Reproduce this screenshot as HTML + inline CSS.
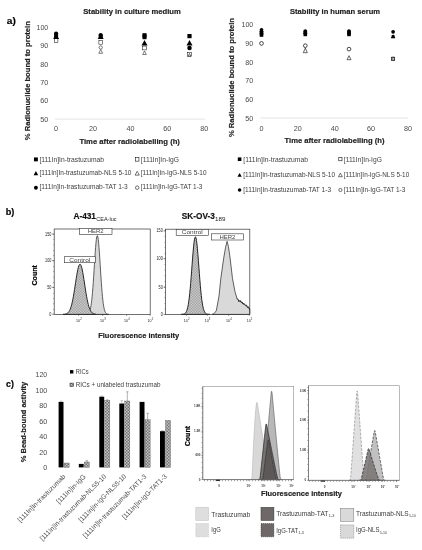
<!DOCTYPE html>
<html><head><meta charset="utf-8"><title>Figure</title>
<style>
html,body{margin:0;padding:0;background:#fff;}
body{width:422px;height:550px;overflow:hidden;}
svg{display:block;filter:blur(0.35px);font-family:'Liberation Sans', sans-serif;}
</style></head><body>
<svg width="422" height="550" viewBox="0 0 422 550">
<rect width="422" height="550" fill="#fff"/>
<text x="6.80" y="24.30" font-size="9.5" textLength="9.00" lengthAdjust="spacingAndGlyphs" font-weight="bold" stroke="#000" stroke-width="0.18" fill="#000">a)</text>
<text x="132.00" y="14.30" font-size="7.8" textLength="97.50" lengthAdjust="spacingAndGlyphs" text-anchor="middle" font-weight="bold" stroke="#222" stroke-width="0.18" fill="#222">Stability in culture medium</text>
<text x="48.30" y="29.90" font-size="7.5" textLength="11.80" lengthAdjust="spacingAndGlyphs" text-anchor="end" fill="#4a4a4a">100</text>
<text x="48.30" y="48.30" font-size="7.5" textLength="8.00" lengthAdjust="spacingAndGlyphs" text-anchor="end" fill="#4a4a4a">90</text>
<text x="48.30" y="66.60" font-size="7.5" textLength="8.00" lengthAdjust="spacingAndGlyphs" text-anchor="end" fill="#4a4a4a">80</text>
<text x="48.30" y="85.00" font-size="7.5" textLength="8.00" lengthAdjust="spacingAndGlyphs" text-anchor="end" fill="#4a4a4a">70</text>
<text x="48.30" y="103.30" font-size="7.5" textLength="8.00" lengthAdjust="spacingAndGlyphs" text-anchor="end" fill="#4a4a4a">60</text>
<text x="48.30" y="121.60" font-size="7.5" textLength="8.00" lengthAdjust="spacingAndGlyphs" text-anchor="end" fill="#4a4a4a">50</text>
<line x1="55" y1="119.1" x2="205" y2="119.1" stroke="#d9d9d9" stroke-width="0.7"/>
<text x="56.00" y="131.30" font-size="7.5" textLength="4.00" lengthAdjust="spacingAndGlyphs" text-anchor="middle" fill="#4a4a4a">0</text>
<text x="93.00" y="131.30" font-size="7.5" textLength="8.00" lengthAdjust="spacingAndGlyphs" text-anchor="middle" fill="#4a4a4a">20</text>
<text x="130.50" y="131.30" font-size="7.5" textLength="8.00" lengthAdjust="spacingAndGlyphs" text-anchor="middle" fill="#4a4a4a">40</text>
<text x="167.30" y="131.30" font-size="7.5" textLength="8.00" lengthAdjust="spacingAndGlyphs" text-anchor="middle" fill="#4a4a4a">60</text>
<text x="204.30" y="131.30" font-size="7.5" textLength="8.00" lengthAdjust="spacingAndGlyphs" text-anchor="middle" fill="#4a4a4a">80</text>
<text x="30.20" y="80.70" font-size="7.8" textLength="119.00" lengthAdjust="spacingAndGlyphs" text-anchor="middle" font-weight="bold" stroke="#222" stroke-width="0.18" fill="#222" transform="rotate(-90 30.20 80.70)">% Radionuclide bound to protein</text>
<text x="129.70" y="144.00" font-size="7.8" textLength="100.50" lengthAdjust="spacingAndGlyphs" text-anchor="middle" font-weight="bold" stroke="#222" stroke-width="0.18" fill="#222">Time after radiolabelling (h)</text>
<rect x="54.30" y="38.70" width="3.6" height="3.6" fill="#fff" stroke="#000" stroke-width="0.5"/>
<rect x="54.10" y="34.20" width="4.0" height="4.0" fill="#000"/>
<circle cx="56.10" cy="33.50" r="2.1" fill="#000"/>
<polygon points="56.10,33.90 59.10,39.10 53.10,39.10" fill="#000"/>
<polygon points="100.70,49.50 102.60,53.30 98.80,53.30" fill="#fff" stroke="#000" stroke-width="0.5"/>
<circle cx="100.70" cy="47.50" r="1.65" fill="#fff" stroke="#000" stroke-width="0.5"/>
<rect x="98.90" y="40.60" width="3.6" height="3.6" fill="#fff" stroke="#000" stroke-width="0.5"/>
<rect x="98.70" y="34.60" width="4.0" height="4.0" fill="#000"/>
<circle cx="100.70" cy="35.00" r="2.1" fill="#000"/>
<polygon points="100.70,33.90 103.70,39.10 97.70,39.10" fill="#000"/>
<polygon points="144.50,50.90 146.30,54.50 142.70,54.50" fill="#fff" stroke="#000" stroke-width="0.5"/>
<rect x="142.60" y="46.10" width="3.8" height="3.8" fill="#fff" stroke="#000" stroke-width="0.5"/>
<rect x="142.40" y="33.20" width="4.2" height="4.2" fill="#000"/>
<rect x="142.50" y="35.20" width="4.0" height="4.0" fill="#000"/>
<polygon points="144.50,40.00 147.50,45.60 141.50,45.60" fill="#000"/>
<rect x="187.50" y="52.50" width="4.0" height="4.0" fill="#fff" stroke="#000" stroke-width="0.5"/>
<polygon points="189.50,53.40 190.80,56.00 188.20,56.00" fill="#fff" stroke="#000" stroke-width="0.5"/>
<rect x="187.40" y="34.00" width="4.2" height="4.2" fill="#000"/>
<polygon points="189.50,40.00 192.50,45.60 186.50,45.60" fill="#000"/>
<circle cx="189.50" cy="48.00" r="2.25" fill="#000"/>
<rect x="33.95" y="157.45" width="3.9" height="3.9" fill="#000"/>
<rect x="135.45" y="157.65" width="3.5" height="3.5" fill="#fff" stroke="#000" stroke-width="0.55"/>
<text x="39.50" y="161.70" font-size="6.7" textLength="64.50" lengthAdjust="spacingAndGlyphs" fill="#404040">[111In]In-trastuzumab</text>
<text x="140.80" y="161.70" font-size="6.7" textLength="38.20" lengthAdjust="spacingAndGlyphs" fill="#404040">[111In]In-IgG</text>
<polygon points="35.90,171.10 38.20,175.30 33.60,175.30" fill="#000"/>
<polygon points="137.20,171.25 139.30,175.15 135.10,175.15" fill="#fff" stroke="#000" stroke-width="0.55"/>
<text x="39.50" y="175.10" font-size="6.7" textLength="92.00" lengthAdjust="spacingAndGlyphs" fill="#404040">[111In]In-trastuzumab-NLS 5-10</text>
<text x="140.80" y="175.10" font-size="6.7" textLength="65.70" lengthAdjust="spacingAndGlyphs" fill="#404040">[111In]In-IgG-NLS 5-10</text>
<circle cx="35.90" cy="187.70" r="1.95" fill="#000"/>
<circle cx="137.20" cy="187.70" r="1.75" fill="#fff" stroke="#000" stroke-width="0.55"/>
<text x="39.50" y="188.90" font-size="6.7" textLength="88.20" lengthAdjust="spacingAndGlyphs" fill="#404040">[111In]In-trastuzumab-TAT 1-3</text>
<text x="140.80" y="188.90" font-size="6.7" textLength="61.70" lengthAdjust="spacingAndGlyphs" fill="#404040">[111In]In-IgG-TAT 1-3</text>
<text x="335.00" y="14.30" font-size="7.8" textLength="90.00" lengthAdjust="spacingAndGlyphs" text-anchor="middle" font-weight="bold" stroke="#222" stroke-width="0.18" fill="#222">Stability in human serum</text>
<text x="253.30" y="27.00" font-size="7.5" textLength="11.80" lengthAdjust="spacingAndGlyphs" text-anchor="end" fill="#4a4a4a">100</text>
<text x="253.30" y="46.10" font-size="7.5" textLength="8.00" lengthAdjust="spacingAndGlyphs" text-anchor="end" fill="#4a4a4a">90</text>
<text x="253.30" y="64.70" font-size="7.5" textLength="8.00" lengthAdjust="spacingAndGlyphs" text-anchor="end" fill="#4a4a4a">80</text>
<text x="253.30" y="83.30" font-size="7.5" textLength="8.00" lengthAdjust="spacingAndGlyphs" text-anchor="end" fill="#4a4a4a">70</text>
<text x="253.30" y="101.90" font-size="7.5" textLength="8.00" lengthAdjust="spacingAndGlyphs" text-anchor="end" fill="#4a4a4a">60</text>
<text x="253.30" y="120.50" font-size="7.5" textLength="8.00" lengthAdjust="spacingAndGlyphs" text-anchor="end" fill="#4a4a4a">50</text>
<line x1="260.5" y1="118" x2="408" y2="118" stroke="#d9d9d9" stroke-width="0.7"/>
<text x="261.60" y="130.80" font-size="7.5" textLength="4.00" lengthAdjust="spacingAndGlyphs" text-anchor="middle" fill="#4a4a4a">0</text>
<text x="297.80" y="130.80" font-size="7.5" textLength="8.00" lengthAdjust="spacingAndGlyphs" text-anchor="middle" fill="#4a4a4a">20</text>
<text x="334.70" y="130.80" font-size="7.5" textLength="8.00" lengthAdjust="spacingAndGlyphs" text-anchor="middle" fill="#4a4a4a">40</text>
<text x="371.00" y="130.80" font-size="7.5" textLength="8.00" lengthAdjust="spacingAndGlyphs" text-anchor="middle" fill="#4a4a4a">60</text>
<text x="408.00" y="130.80" font-size="7.5" textLength="8.00" lengthAdjust="spacingAndGlyphs" text-anchor="middle" fill="#4a4a4a">80</text>
<text x="233.50" y="77.50" font-size="7.8" textLength="119.00" lengthAdjust="spacingAndGlyphs" text-anchor="middle" font-weight="bold" stroke="#222" stroke-width="0.18" fill="#222" transform="rotate(-90 233.50 77.50)">% Radionuclide bound to protein</text>
<text x="334.50" y="142.70" font-size="7.8" textLength="100.00" lengthAdjust="spacingAndGlyphs" text-anchor="middle" font-weight="bold" stroke="#222" stroke-width="0.18" fill="#222">Time after radiolabelling (h)</text>
<circle cx="261.50" cy="43.40" r="1.85" fill="#fff" stroke="#000" stroke-width="0.7"/>
<rect x="259.70" y="31.20" width="3.6" height="3.6" fill="#000"/>
<rect x="259.70" y="33.20" width="3.6" height="3.6" fill="#000"/>
<polygon points="261.50,29.50 263.50,33.50 259.50,33.50" fill="#000"/>
<circle cx="261.50" cy="29.80" r="1.85" fill="#000"/>
<circle cx="261.50" cy="31.50" r="1.85" fill="#000"/>
<polygon points="305.30,48.10 307.30,52.70 303.30,52.70" fill="#fff" stroke="#000" stroke-width="0.6"/>
<circle cx="305.30" cy="45.70" r="1.85" fill="#fff" stroke="#000" stroke-width="0.7"/>
<rect x="303.50" y="32.60" width="3.6" height="3.6" fill="#000"/>
<rect x="303.50" y="30.70" width="3.6" height="3.6" fill="#000"/>
<circle cx="305.30" cy="31.00" r="1.85" fill="#000"/>
<polygon points="305.30,30.00 307.30,34.00 303.30,34.00" fill="#000"/>
<circle cx="349.00" cy="49.10" r="1.85" fill="#fff" stroke="#000" stroke-width="0.7"/>
<polygon points="349.00,55.70 351.00,59.70 347.00,59.70" fill="#fff" stroke="#000" stroke-width="0.6"/>
<rect x="347.20" y="32.60" width="3.6" height="3.6" fill="#000"/>
<rect x="347.20" y="30.70" width="3.6" height="3.6" fill="#000"/>
<circle cx="349.00" cy="31.00" r="1.85" fill="#000"/>
<polygon points="349.00,30.00 351.00,34.00 347.00,34.00" fill="#000"/>
<rect x="391.48" y="57.18" width="3.24" height="3.24" fill="#fff" stroke="#000" stroke-width="0.6"/>
<polygon points="393.10,56.80 394.70,60.00 391.50,60.00" fill="#fff" stroke="#000" stroke-width="0.6"/>
<circle cx="393.10" cy="31.80" r="1.85" fill="#000"/>
<polygon points="393.10,34.20 395.40,38.20 390.80,38.20" fill="#000"/>
<rect x="391.66" y="35.16" width="2.8800000000000003" height="2.8800000000000003" fill="#000"/>
<rect x="237.81" y="157.41" width="3.588" height="3.588" fill="#000"/>
<rect x="338.79" y="157.59" width="3.22" height="3.22" fill="#fff" stroke="#000" stroke-width="0.55"/>
<text x="243.30" y="161.50" font-size="6.7" textLength="64.70" lengthAdjust="spacingAndGlyphs" fill="#404040">[111In]In-trastuzumab</text>
<text x="343.80" y="161.50" font-size="6.7" textLength="38.10" lengthAdjust="spacingAndGlyphs" fill="#404040">[111In]In-IgG</text>
<polygon points="239.60,172.97 241.72,176.83 237.48,176.83" fill="#000"/>
<polygon points="340.40,173.11 342.33,176.69 338.47,176.69" fill="#fff" stroke="#000" stroke-width="0.55"/>
<text x="243.30" y="176.80" font-size="6.7" textLength="91.80" lengthAdjust="spacingAndGlyphs" fill="#404040">[111In]In-trastuzumab-NLS 5-10</text>
<text x="343.80" y="176.80" font-size="6.7" textLength="65.40" lengthAdjust="spacingAndGlyphs" fill="#404040">[111In]In-IgG-NLS 5-10</text>
<circle cx="239.60" cy="190.00" r="1.794" fill="#000"/>
<circle cx="340.40" cy="190.00" r="1.61" fill="#fff" stroke="#000" stroke-width="0.55"/>
<text x="243.30" y="192.20" font-size="6.7" textLength="87.80" lengthAdjust="spacingAndGlyphs" fill="#404040">[111In]In-trastuzumab-TAT 1-3</text>
<text x="343.80" y="192.20" font-size="6.7" textLength="61.50" lengthAdjust="spacingAndGlyphs" fill="#404040">[111In]In-IgG-TAT 1-3</text>
<text x="5.70" y="214.50" font-size="9.5" textLength="8.60" lengthAdjust="spacingAndGlyphs" font-weight="bold" stroke="#000" stroke-width="0.18" fill="#000">b)</text>
<defs>
<pattern id="dots" width="1.6" height="1.6" patternUnits="userSpaceOnUse"><rect width="1.6" height="1.6" fill="#dadada"/><rect x="0" y="0" width="0.8" height="0.8" fill="#949494"/><rect x="0.8" y="0.8" width="0.8" height="0.8" fill="#949494"/></pattern>
<pattern id="bar" width="1.5" height="1.5" patternUnits="userSpaceOnUse"><rect width="1.5" height="1.5" fill="#f2f2f2"/><rect x="0" y="0" width="0.75" height="0.75" fill="#444"/><rect x="0.75" y="0.75" width="0.75" height="0.75" fill="#444"/></pattern>
</defs>
<text x="73.40" y="219.30" font-size="9.0" textLength="22.60" lengthAdjust="spacingAndGlyphs" font-weight="bold" stroke="#111" stroke-width="0.18" fill="#111">A-431</text>
<text x="96.30" y="220.90" font-size="6.0" textLength="20.20" lengthAdjust="spacingAndGlyphs" fill="#222">CEA-luc</text>
<path d="M86.00,314.40 L86.00,314.33 L86.38,314.30 L86.77,314.23 L87.15,314.14 L87.53,314.01 L87.92,313.81 L88.30,313.52 L88.68,313.13 L89.07,312.58 L89.45,311.83 L89.83,310.84 L90.22,309.55 L90.60,307.89 L90.98,305.81 L91.37,303.25 L91.75,300.17 L92.13,296.52 L92.52,292.30 L92.90,287.52 L93.28,282.24 L93.67,276.55 L94.05,270.58 L94.43,264.48 L94.82,258.46 L95.20,252.72 L95.58,247.50 L95.97,243.01 L96.35,239.45 L96.73,236.99 L97.12,235.75 L97.50,235.77 L97.88,237.08 L98.27,239.59 L98.65,243.19 L99.03,247.71 L99.42,252.96 L99.80,258.72 L100.18,264.75 L100.57,270.84 L100.95,276.81 L101.33,282.48 L101.72,287.74 L102.10,292.49 L102.48,296.69 L102.87,300.31 L103.25,303.38 L103.63,305.91 L104.02,307.97 L104.40,309.61 L104.78,310.89 L105.17,311.87 L105.55,312.60 L105.93,313.15 L106.32,313.54 L106.70,313.82 L107.08,314.01 L107.47,314.15 L107.85,314.24 L108.23,314.30 L108.62,314.34 L109.00,314.36 L109.00,314.40 Z" fill="#d9d9d9" stroke="#3a3a3a" stroke-width="0.8" fill-opacity="1" stroke-linejoin="round"/>
<path d="M63.00,314.40 L63.00,314.35 L63.55,314.32 L64.10,314.27 L64.65,314.21 L65.20,314.12 L65.75,313.99 L66.30,313.80 L66.85,313.56 L67.40,313.22 L67.95,312.78 L68.50,312.19 L69.05,311.45 L69.60,310.50 L70.15,309.33 L70.70,307.90 L71.25,306.18 L71.80,304.15 L72.35,301.81 L72.90,299.15 L73.45,296.18 L74.00,292.96 L74.55,289.52 L75.10,285.94 L75.65,282.30 L76.20,278.71 L76.75,275.29 L77.30,272.14 L77.85,269.39 L78.40,267.15 L78.95,265.49 L79.50,264.50 L80.05,264.20 L80.60,264.63 L81.15,265.74 L81.70,267.51 L82.25,269.86 L82.80,272.69 L83.35,275.89 L83.90,279.36 L84.45,282.96 L85.00,286.59 L85.55,290.16 L86.10,293.56 L86.65,296.74 L87.20,299.65 L87.75,302.26 L88.30,304.54 L88.85,306.51 L89.40,308.18 L89.95,309.56 L90.50,310.69 L91.05,311.60 L91.60,312.31 L92.15,312.87 L92.70,313.29 L93.25,313.61 L93.80,313.84 L94.35,314.01 L94.90,314.14 L95.45,314.22 L96.00,314.28 L96.00,314.40 Z" fill="url(#dots)" stroke="#262626" stroke-width="1.0" fill-opacity="1" stroke-linejoin="round"/>
<rect x="54.2" y="229" width="96.00" height="85.40" fill="none" stroke="#333" stroke-width="0.7"/>
<line x1="52.2" y1="234" x2="54.2" y2="234" stroke="#333" stroke-width="0.6"/>
<text transform="translate(45.10 235.50) scale(0.1888 0.2300)" font-size="20" fill="#222">150</text>
<line x1="52.2" y1="260.6" x2="54.2" y2="260.6" stroke="#333" stroke-width="0.6"/>
<text transform="translate(45.10 262.10) scale(0.1888 0.2300)" font-size="20" fill="#222">100</text>
<line x1="52.2" y1="287.4" x2="54.2" y2="287.4" stroke="#333" stroke-width="0.6"/>
<text transform="translate(47.20 288.90) scale(0.1888 0.2300)" font-size="20" fill="#222">50</text>
<line x1="52.2" y1="314.2" x2="54.2" y2="314.2" stroke="#333" stroke-width="0.6"/>
<text transform="translate(49.30 315.70) scale(0.1888 0.2300)" font-size="20" fill="#222">0</text>
<line x1="78.6" y1="314.4" x2="78.6" y2="316.0" stroke="#444" stroke-width="0.5"/>
<text transform="translate(76.00 321.80) scale(0.1798 0.2200)" font-size="20" fill="#222">10</text>
<text transform="translate(80.15 319.90) scale(0.1350 0.1350)" font-size="20" fill="#222">2</text>
<line x1="102.6" y1="314.4" x2="102.6" y2="316.0" stroke="#444" stroke-width="0.5"/>
<text transform="translate(100.00 321.80) scale(0.1798 0.2200)" font-size="20" fill="#222">10</text>
<text transform="translate(104.15 319.90) scale(0.1350 0.1350)" font-size="20" fill="#222">3</text>
<line x1="126.6" y1="314.4" x2="126.6" y2="316.0" stroke="#444" stroke-width="0.5"/>
<text transform="translate(124.00 321.80) scale(0.1798 0.2200)" font-size="20" fill="#222">10</text>
<text transform="translate(128.15 319.90) scale(0.1350 0.1350)" font-size="20" fill="#222">4</text>
<line x1="150.2" y1="314.4" x2="150.2" y2="316.0" stroke="#444" stroke-width="0.5"/>
<text transform="translate(147.60 321.80) scale(0.1798 0.2200)" font-size="20" fill="#222">10</text>
<text transform="translate(151.75 319.90) scale(0.1350 0.1350)" font-size="20" fill="#222">5</text>
<line x1="53.5" y1="234" x2="53.5" y2="314.4" stroke="#444" stroke-width="1.0" stroke-dasharray="0.4 4.96"/>
<line x1="164.9" y1="230.8" x2="164.9" y2="314.4" stroke="#444" stroke-width="1.0" stroke-dasharray="0.4 5.17"/>
<rect x="79.4" y="228.3" width="32.60" height="6.30" fill="#fff" stroke="#333" stroke-width="0.6"/>
<text transform="translate(87.70 233.32) scale(0.2999 0.2600)" font-size="20" fill="#444">HER2</text>
<rect x="64.3" y="256.7" width="31.00" height="6.00" fill="#fff" stroke="#333" stroke-width="0.6"/>
<text transform="translate(69.30 261.57) scale(0.3257 0.2600)" font-size="20" fill="#444">Control</text>
<text x="36.90" y="275.30" font-size="7.0" textLength="20.50" lengthAdjust="spacingAndGlyphs" text-anchor="middle" font-weight="bold" stroke="#000" stroke-width="0.18" fill="#000" transform="rotate(-90 36.90 275.30)">Count</text>
<text x="138.70" y="337.80" font-size="7.8" textLength="81.00" lengthAdjust="spacingAndGlyphs" text-anchor="middle" font-weight="bold" stroke="#222" stroke-width="0.18" fill="#222">Fluorescence intensity</text>
<text x="181.80" y="219.30" font-size="9.0" textLength="33.00" lengthAdjust="spacingAndGlyphs" font-weight="bold" stroke="#111" stroke-width="0.18" fill="#111">SK-OV-3</text>
<text x="215.10" y="220.90" font-size="6.0" textLength="10.40" lengthAdjust="spacingAndGlyphs" fill="#222">189</text>
<path d="M212.00,314.40 L212.00,314.40 L214.00,313.67 L216.30,310.75 L219.00,296.12 L220.80,278.58 L223.70,258.11 L225.60,247.15 L227.10,241.30 L228.40,246.42 L229.80,255.92 L232.50,278.58 L235.00,291.74 L237.00,298.32 L238.20,299.78 L239.00,301.61 L240.00,300.51 L241.00,302.34 L242.00,301.97 L243.00,304.17 L244.00,303.44 L245.50,305.63 L246.50,305.26 L247.50,307.46 L248.60,307.09 L249.80,310.01 L249.80,314.40 Z" fill="#d9d9d9" stroke="#3a3a3a" stroke-width="0.8" fill-opacity="1" stroke-linejoin="round"/>
<path d="M237.00,298.32 L238.20,299.78 L239.00,301.61 L240.00,300.51 L241.00,302.34 L242.00,301.97 L243.00,304.17 L244.00,303.44 L245.50,305.63 L246.50,305.26 L247.50,307.46 L248.60,307.09 L249.80,310.01" fill="none" stroke="#333" stroke-width="1.0"/>
<path d="M181.00,314.40 L181.00,314.38 L181.48,314.37 L181.97,314.35 L182.45,314.32 L182.93,314.26 L183.42,314.18 L183.90,314.05 L184.38,313.85 L184.87,313.56 L185.35,313.14 L185.83,312.55 L186.32,311.73 L186.80,310.61 L187.28,309.13 L187.77,307.21 L188.25,304.77 L188.73,301.75 L189.22,298.10 L189.70,293.80 L190.18,288.85 L190.67,283.30 L191.15,277.27 L191.63,270.91 L192.12,264.42 L192.60,258.05 L193.08,252.07 L193.57,246.75 L194.05,242.36 L194.53,239.14 L195.02,237.26 L195.50,236.83 L195.98,237.87 L196.47,240.32 L196.95,244.05 L197.43,248.85 L197.92,254.48 L198.40,260.66 L198.88,267.11 L199.37,273.57 L199.85,279.82 L200.33,285.66 L200.82,290.97 L201.30,295.66 L201.78,299.69 L202.27,303.07 L202.75,305.84 L203.23,308.06 L203.72,309.79 L204.20,311.11 L204.68,312.10 L205.17,312.82 L205.65,313.33 L206.13,313.70 L206.62,313.94 L207.10,314.11 L207.58,314.22 L208.07,314.29 L208.55,314.33 L209.03,314.36 L209.52,314.38 L210.00,314.39 L210.00,314.40 Z" fill="url(#dots)" stroke="#262626" stroke-width="1.0" fill-opacity="1" stroke-linejoin="round"/>
<rect x="165.6" y="229.2" width="84.20" height="85.20" fill="none" stroke="#333" stroke-width="0.7"/>
<line x1="163.6" y1="230.8" x2="165.6" y2="230.8" stroke="#333" stroke-width="0.6"/>
<text transform="translate(156.50 232.30) scale(0.1888 0.2300)" font-size="20" fill="#222">150</text>
<line x1="163.6" y1="258.7" x2="165.6" y2="258.7" stroke="#333" stroke-width="0.6"/>
<text transform="translate(156.50 260.20) scale(0.1888 0.2300)" font-size="20" fill="#222">100</text>
<line x1="163.6" y1="287.3" x2="165.6" y2="287.3" stroke="#333" stroke-width="0.6"/>
<text transform="translate(158.60 288.80) scale(0.1888 0.2300)" font-size="20" fill="#222">50</text>
<line x1="163.6" y1="314.4" x2="165.6" y2="314.4" stroke="#333" stroke-width="0.6"/>
<text transform="translate(160.70 315.90) scale(0.1888 0.2300)" font-size="20" fill="#222">0</text>
<line x1="186.4" y1="314.4" x2="186.4" y2="316.0" stroke="#444" stroke-width="0.5"/>
<text transform="translate(183.80 321.80) scale(0.1798 0.2200)" font-size="20" fill="#222">10</text>
<text transform="translate(187.95 319.90) scale(0.1350 0.1350)" font-size="20" fill="#222">2</text>
<line x1="207.3" y1="314.4" x2="207.3" y2="316.0" stroke="#444" stroke-width="0.5"/>
<text transform="translate(204.70 321.80) scale(0.1798 0.2200)" font-size="20" fill="#222">10</text>
<text transform="translate(208.85 319.90) scale(0.1350 0.1350)" font-size="20" fill="#222">3</text>
<line x1="228.6" y1="314.4" x2="228.6" y2="316.0" stroke="#444" stroke-width="0.5"/>
<text transform="translate(226.00 321.80) scale(0.1798 0.2200)" font-size="20" fill="#222">10</text>
<text transform="translate(230.15 319.90) scale(0.1350 0.1350)" font-size="20" fill="#222">4</text>
<line x1="249.3" y1="314.4" x2="249.3" y2="316.0" stroke="#444" stroke-width="0.5"/>
<text transform="translate(246.70 321.80) scale(0.1798 0.2200)" font-size="20" fill="#222">10</text>
<text transform="translate(250.85 319.90) scale(0.1350 0.1350)" font-size="20" fill="#222">5</text>
<rect x="176.2" y="229.5" width="32.10" height="6.00" fill="#fff" stroke="#333" stroke-width="0.6"/>
<text transform="translate(181.75 234.37) scale(0.3257 0.2600)" font-size="20" fill="#444">Control</text>
<rect x="211.3" y="233.8" width="32.30" height="6.20" fill="#fff" stroke="#333" stroke-width="0.6"/>
<text transform="translate(219.45 238.77) scale(0.2999 0.2600)" font-size="20" fill="#444">HER2</text>
<text x="6.00" y="387.20" font-size="9.2" textLength="7.80" lengthAdjust="spacingAndGlyphs" font-weight="bold" stroke="#000" stroke-width="0.18" fill="#000">c)</text>
<text x="47.30" y="376.90" font-size="7.5" textLength="11.80" lengthAdjust="spacingAndGlyphs" text-anchor="end" fill="#4a4a4a">120</text>
<text x="47.30" y="392.50" font-size="7.5" textLength="11.80" lengthAdjust="spacingAndGlyphs" text-anchor="end" fill="#4a4a4a">100</text>
<text x="47.30" y="408.00" font-size="7.5" textLength="8.00" lengthAdjust="spacingAndGlyphs" text-anchor="end" fill="#4a4a4a">80</text>
<text x="47.30" y="423.60" font-size="7.5" textLength="8.00" lengthAdjust="spacingAndGlyphs" text-anchor="end" fill="#4a4a4a">60</text>
<text x="47.30" y="439.10" font-size="7.5" textLength="8.00" lengthAdjust="spacingAndGlyphs" text-anchor="end" fill="#4a4a4a">40</text>
<text x="47.30" y="454.70" font-size="7.5" textLength="8.00" lengthAdjust="spacingAndGlyphs" text-anchor="end" fill="#4a4a4a">20</text>
<text x="47.30" y="470.20" font-size="7.5" textLength="4.00" lengthAdjust="spacingAndGlyphs" text-anchor="end" fill="#4a4a4a">0</text>
<text x="25.80" y="422.00" font-size="7.8" textLength="80.50" lengthAdjust="spacingAndGlyphs" text-anchor="middle" font-weight="bold" stroke="#222" stroke-width="0.18" fill="#222" transform="rotate(-90 25.80 422.00)">% Bead-bound activity</text>
<rect x="58.6" y="401.9" width="4.9" height="65.50" fill="#000"/>
<rect x="64.05" y="463.0" width="5.1" height="4.40" fill="url(#bar)" stroke="#555" stroke-width="0.35"/>
<path d="M61.050000000000004,401.9 V401.2 M59.85,401.2 H62.25000000000001" stroke="#777" stroke-width="0.4" fill="none"/>
<rect x="78.8" y="463.9" width="4.9" height="3.50" fill="#000"/>
<rect x="84.25" y="462.0" width="5.1" height="5.40" fill="url(#bar)" stroke="#555" stroke-width="0.35"/>
<path d="M86.8,462.0 V460.6 M85.6,460.6 H88.0" stroke="#555" stroke-width="0.45" fill="none"/>
<rect x="99.3" y="396.7" width="4.9" height="70.70" fill="#000"/>
<rect x="104.75" y="400.4" width="5.1" height="67.00" fill="url(#bar)" stroke="#555" stroke-width="0.35"/>
<path d="M101.75,396.7 V396.0 M100.55,396.0 H102.95" stroke="#777" stroke-width="0.4" fill="none"/>
<path d="M107.3,400.4 V399.8 M106.1,399.8 H108.5" stroke="#555" stroke-width="0.45" fill="none"/>
<rect x="119.3" y="403.5" width="4.9" height="63.90" fill="#000"/>
<rect x="124.75" y="401.0" width="5.1" height="66.40" fill="url(#bar)" stroke="#555" stroke-width="0.35"/>
<path d="M121.75,403.5 V400.6 M120.55,400.6 H122.95" stroke="#777" stroke-width="0.4" fill="none"/>
<path d="M127.3,401.0 V391.8 M126.1,391.8 H128.5" stroke="#555" stroke-width="0.45" fill="none"/>
<rect x="139.6" y="401.9" width="4.9" height="65.50" fill="#000"/>
<rect x="145.05" y="419.8" width="5.1" height="47.60" fill="url(#bar)" stroke="#555" stroke-width="0.35"/>
<path d="M147.60000000000002,419.8 V413.3 M146.40000000000003,413.3 H148.8" stroke="#555" stroke-width="0.45" fill="none"/>
<rect x="160.0" y="431.2" width="4.9" height="36.20" fill="#000"/>
<rect x="165.45000000000002" y="420.4" width="5.1" height="47.00" fill="url(#bar)" stroke="#555" stroke-width="0.35"/>
<path d="M162.45,431.2 V430.5 M161.25,430.5 H163.64999999999998" stroke="#777" stroke-width="0.4" fill="none"/>
<rect x="70.00" y="370.10" width="3.4" height="3.4" fill="#000"/>
<text x="75.80" y="374.10" font-size="6.7" textLength="12.80" lengthAdjust="spacingAndGlyphs" fill="#404040">RICs</text>
<rect x="70.0" y="383.1" width="3.4" height="3.4" fill="url(#bar)" stroke="#222" stroke-width="0.55"/>
<text x="75.80" y="387.20" font-size="6.7" textLength="84.60" lengthAdjust="spacingAndGlyphs" fill="#404040">RICs + unlabeled trastuzumab</text>
<text x="65.90" y="477.00" font-size="6.7" textLength="64.50" lengthAdjust="spacingAndGlyphs" text-anchor="end" fill="#4a4a4a" transform="rotate(-45 65.90 477.00)">[111In]In-trastuzumab</text>
<text x="86.10" y="477.00" font-size="6.7" textLength="38.20" lengthAdjust="spacingAndGlyphs" text-anchor="end" fill="#4a4a4a" transform="rotate(-45 86.10 477.00)">[111In]In-IgG</text>
<text x="106.60" y="477.00" font-size="6.7" textLength="90.50" lengthAdjust="spacingAndGlyphs" text-anchor="end" fill="#4a4a4a" transform="rotate(-45 106.60 477.00)">[111In]In-trastuzumab-NLS5-10</text>
<text x="126.60" y="477.00" font-size="6.7" textLength="64.20" lengthAdjust="spacingAndGlyphs" text-anchor="end" fill="#4a4a4a" transform="rotate(-45 126.60 477.00)">[111In]In-IgG-NLS5-10</text>
<text x="146.90" y="477.00" font-size="6.7" textLength="86.70" lengthAdjust="spacingAndGlyphs" text-anchor="end" fill="#4a4a4a" transform="rotate(-45 146.90 477.00)">[111In]In-trastuzumab-TAT1-3</text>
<text x="167.30" y="477.00" font-size="6.7" textLength="60.20" lengthAdjust="spacingAndGlyphs" text-anchor="end" fill="#4a4a4a" transform="rotate(-45 167.30 477.00)">[111In]In-IgG-TAT1-3</text>
<path d="M250.50,479.60 L250.50,479.60 L250.76,479.60 L251.01,479.60 L251.27,479.60 L251.53,479.50 L251.78,478.23 L252.04,475.60 L252.29,471.64 L252.55,466.40 L252.81,460.50 L253.06,454.81 L253.32,449.34 L253.57,444.10 L253.83,439.09 L254.09,434.31 L254.34,429.78 L254.60,425.51 L254.86,421.51 L255.11,417.78 L255.37,414.35 L255.62,411.24 L255.88,408.47 L256.14,406.06 L256.39,404.08 L256.65,402.77 L256.91,402.33 L257.16,402.69 L257.42,403.71 L257.68,405.24 L257.93,406.86 L258.19,408.47 L258.44,410.08 L258.70,411.69 L258.96,413.30 L259.21,414.91 L259.47,416.52 L259.73,418.13 L259.98,419.75 L260.24,421.36 L260.49,422.97 L260.75,424.58 L261.01,426.19 L261.26,427.80 L261.52,429.41 L261.77,431.03 L262.03,432.64 L262.29,434.25 L262.54,435.86 L262.80,437.47 L263.06,439.08 L263.31,440.69 L263.57,442.30 L263.82,443.92 L264.08,445.53 L264.34,447.14 L264.59,448.75 L264.85,450.36 L265.11,451.97 L265.36,453.58 L265.62,455.19 L265.88,456.81 L266.13,458.42 L266.39,460.03 L266.64,461.64 L266.90,463.25 L267.16,464.86 L267.41,466.47 L267.67,468.09 L267.93,469.70 L268.18,471.31 L268.44,472.92 L268.69,474.53 L268.95,476.14 L269.21,477.54 L269.46,478.57 L269.72,479.25 L269.98,479.57 L270.23,479.60 L270.49,479.60 L270.74,479.60 L271.00,479.60 L271.00,479.60 Z" fill="#d8d8d8" stroke="#b4b4b4" stroke-width="0.6" fill-opacity="1" stroke-linejoin="round"/>
<path d="M261.50,479.60 L261.50,479.60 L261.75,479.60 L262.01,479.60 L262.26,479.60 L262.52,479.57 L262.77,479.14 L263.03,478.16 L263.29,476.63 L263.54,474.53 L263.80,472.05 L264.05,469.51 L264.31,466.93 L264.56,464.33 L264.81,461.70 L265.07,459.05 L265.32,456.39 L265.58,453.71 L265.83,451.02 L266.09,448.32 L266.35,445.61 L266.60,442.88 L266.86,440.15 L267.11,437.40 L267.37,434.65 L267.62,431.89 L267.88,429.12 L268.13,426.35 L268.38,423.56 L268.64,420.78 L268.90,417.98 L269.15,415.18 L269.41,412.37 L269.66,409.56 L269.92,406.74 L270.17,403.92 L270.43,401.09 L270.68,398.26 L270.94,395.42 L271.19,392.82 L271.44,391.41 L271.70,391.24 L271.96,392.32 L272.21,394.65 L272.47,397.43 L272.72,400.20 L272.98,402.96 L273.23,405.72 L273.49,408.48 L273.74,411.23 L274.00,413.98 L274.25,416.72 L274.50,419.45 L274.76,422.18 L275.02,424.90 L275.27,427.62 L275.53,430.33 L275.78,433.03 L276.04,435.72 L276.29,438.41 L276.55,441.09 L276.80,443.76 L277.06,446.42 L277.31,449.07 L277.57,451.71 L277.82,454.33 L278.08,456.95 L278.33,459.54 L278.59,462.13 L278.84,464.69 L279.10,467.23 L279.35,469.75 L279.61,472.23 L279.86,474.66 L280.12,476.70 L280.37,478.19 L280.63,479.15 L280.88,479.57 L281.14,479.60 L281.39,479.60 L281.65,479.60 L281.90,479.60 L281.90,479.60 Z" fill="#b0b0b0" stroke="#555" stroke-width="0.6" fill-opacity="0.9" stroke-linejoin="round"/>
<path d="M258.40,479.60 L258.40,479.60 L258.66,479.60 L258.93,479.60 L259.19,479.60 L259.45,479.52 L259.71,478.96 L259.98,477.86 L260.24,476.21 L260.50,474.03 L260.76,471.59 L261.03,469.15 L261.29,466.71 L261.55,464.27 L261.81,461.83 L262.08,459.39 L262.34,456.95 L262.60,454.52 L262.86,452.08 L263.13,449.64 L263.39,447.20 L263.65,444.76 L263.91,442.32 L264.18,439.88 L264.44,437.45 L264.70,435.01 L264.96,432.57 L265.23,430.13 L265.49,427.69 L265.75,425.60 L266.01,424.35 L266.28,423.95 L266.54,424.38 L266.80,425.58 L267.06,426.92 L267.33,428.26 L267.59,429.60 L267.85,430.93 L268.11,432.27 L268.38,433.60 L268.64,434.93 L268.90,436.26 L269.16,437.58 L269.43,438.91 L269.69,440.23 L269.95,441.55 L270.21,442.87 L270.48,444.18 L270.74,445.50 L271.00,446.81 L271.26,448.12 L271.53,449.42 L271.79,450.73 L272.05,452.03 L272.31,453.32 L272.58,454.62 L272.84,455.91 L273.10,457.20 L273.36,458.48 L273.63,459.76 L273.89,461.04 L274.15,462.31 L274.41,463.58 L274.68,464.84 L274.94,466.10 L275.20,467.35 L275.46,468.60 L275.73,469.84 L275.99,471.07 L276.25,472.29 L276.51,473.50 L276.78,474.71 L277.04,475.89 L277.30,477.05 L277.56,478.07 L277.83,478.83 L278.09,479.32 L278.35,479.57 L278.61,479.60 L278.88,479.60 L279.14,479.60 L279.40,479.60 L279.40,479.60 Z" fill="#6e6868" stroke="#222" stroke-width="0.7" fill-opacity="0.9" stroke-linejoin="round"/>
<path d="M261.20,479.60 L261.20,479.60 L261.41,479.60 L261.62,479.60 L261.82,479.60 L262.03,479.60 L262.24,479.56 L262.44,479.28 L262.65,478.71 L262.86,477.86 L263.07,476.74 L263.27,475.33 L263.48,473.79 L263.69,472.25 L263.90,470.70 L264.11,469.16 L264.31,467.62 L264.52,466.08 L264.73,464.54 L264.94,463.00 L265.14,461.46 L265.35,459.91 L265.56,458.37 L265.76,456.83 L265.97,455.29 L266.18,453.75 L266.39,452.21 L266.59,450.67 L266.80,449.12 L267.01,447.58 L267.22,446.04 L267.43,444.50 L267.63,442.96 L267.84,441.49 L268.05,440.46 L268.25,439.92 L268.46,439.88 L268.67,440.34 L268.88,441.29 L269.08,442.46 L269.29,443.64 L269.50,444.81 L269.71,445.97 L269.92,447.13 L270.12,448.29 L270.33,449.45 L270.54,450.60 L270.75,451.74 L270.95,452.89 L271.16,454.02 L271.37,455.16 L271.57,456.28 L271.78,457.41 L271.99,458.53 L272.20,459.64 L272.41,460.75 L272.61,461.85 L272.82,462.94 L273.03,464.03 L273.24,465.11 L273.44,466.18 L273.65,467.25 L273.86,468.31 L274.06,469.36 L274.27,470.40 L274.48,471.42 L274.69,472.44 L274.89,473.44 L275.10,474.43 L275.31,475.40 L275.52,476.34 L275.73,477.26 L275.93,478.06 L276.14,478.69 L276.35,479.15 L276.56,479.44 L276.76,479.58 L276.97,479.60 L277.18,479.60 L277.38,479.60 L277.59,479.60 L277.80,479.60 L277.80,479.60 Z" fill="#5a5555" stroke="#222" stroke-width="0.7" stroke-dasharray="1.2 0.6" fill-opacity="0.9" stroke-linejoin="round"/>
<rect x="202.8" y="386.5" width="90.90" height="93.10" fill="none" stroke="#8c8c8c" stroke-width="0.6"/>
<line x1="201.4" y1="406.4" x2="202.8" y2="406.4" stroke="#444" stroke-width="0.5"/>
<text transform="translate(194.06 407.40) scale(0.1500 0.1500)" font-size="20" font-weight="bold" fill="#333">1.8K</text>
<line x1="201.4" y1="431.1" x2="202.8" y2="431.1" stroke="#444" stroke-width="0.5"/>
<text transform="translate(194.06 432.10) scale(0.1500 0.1500)" font-size="20" font-weight="bold" fill="#333">1.2K</text>
<line x1="201.4" y1="455.3" x2="202.8" y2="455.3" stroke="#444" stroke-width="0.5"/>
<text transform="translate(195.40 456.30) scale(0.1500 0.1500)" font-size="20" font-weight="bold" fill="#333">600</text>
<line x1="201.4" y1="479.5" x2="202.8" y2="479.5" stroke="#444" stroke-width="0.5"/>
<text transform="translate(198.73 480.50) scale(0.1500 0.1500)" font-size="20" font-weight="bold" fill="#333">0</text>
<line x1="219.2" y1="479.6" x2="219.2" y2="481.1" stroke="#444" stroke-width="0.5"/>
<text transform="translate(218.37 487.00) scale(0.1500 0.1500)" font-size="20" font-weight="bold" fill="#333">0</text>
<line x1="248.2" y1="479.6" x2="248.2" y2="481.1" stroke="#444" stroke-width="0.5"/>
<text transform="translate(246.53 487.00) scale(0.1500 0.1500)" font-size="20" font-weight="bold" fill="#333">10</text>
<text transform="translate(249.84 485.60) scale(0.1000 0.1000)" font-size="20" fill="#333">3</text>
<line x1="263" y1="479.6" x2="263" y2="481.1" stroke="#444" stroke-width="0.5"/>
<text transform="translate(261.33 487.00) scale(0.1500 0.1500)" font-size="20" font-weight="bold" fill="#333">10</text>
<text transform="translate(264.64 485.60) scale(0.1000 0.1000)" font-size="20" fill="#333">4</text>
<line x1="278" y1="479.6" x2="278" y2="481.1" stroke="#444" stroke-width="0.5"/>
<text transform="translate(276.33 487.00) scale(0.1500 0.1500)" font-size="20" font-weight="bold" fill="#333">10</text>
<text transform="translate(279.64 485.60) scale(0.1000 0.1000)" font-size="20" fill="#333">5</text>
<line x1="291" y1="479.6" x2="291" y2="481.1" stroke="#444" stroke-width="0.5"/>
<text transform="translate(289.33 487.00) scale(0.1500 0.1500)" font-size="20" font-weight="bold" fill="#333">10</text>
<text transform="translate(292.64 485.60) scale(0.1000 0.1000)" font-size="20" fill="#333">6</text>
<rect x="215.7" y="479.70000000000005" width="4.4" height="1.3" fill="#222"/>
<path d="M202.8,386.5 V479.6 H293.7" fill="none" stroke="#555" stroke-width="0.6"/>
<text x="190.30" y="436.10" font-size="7.0" textLength="20.50" lengthAdjust="spacingAndGlyphs" text-anchor="middle" font-weight="bold" stroke="#000" stroke-width="0.18" fill="#000" transform="rotate(-90 190.30 436.10)">Count</text>
<line x1="204" y1="480.5" x2="293.7" y2="480.5" stroke="#555" stroke-width="1.3" stroke-dasharray="0.5 2.5"/>
<line x1="202.0" y1="388" x2="202.0" y2="479.6" stroke="#555" stroke-width="1.0" stroke-dasharray="0.45 4.5"/>
<path d="M349.00,480.30 L349.00,480.30 L349.21,480.30 L349.41,480.30 L349.62,480.30 L349.82,480.30 L350.03,480.24 L350.24,479.73 L350.44,478.70 L350.65,477.14 L350.86,475.07 L351.06,472.47 L351.27,469.59 L351.48,466.72 L351.68,463.85 L351.89,460.98 L352.09,458.11 L352.30,455.23 L352.51,452.36 L352.71,449.49 L352.92,446.62 L353.12,443.75 L353.33,440.87 L353.54,438.00 L353.74,435.13 L353.95,432.26 L354.16,429.39 L354.36,426.51 L354.57,423.64 L354.77,420.77 L354.98,417.90 L355.19,415.02 L355.39,412.15 L355.60,409.28 L355.81,406.41 L356.01,403.54 L356.22,400.66 L356.43,397.79 L356.63,394.92 L356.84,392.56 L357.04,391.23 L357.25,390.95 L357.46,391.69 L357.66,393.48 L357.87,396.18 L358.07,399.01 L358.28,401.84 L358.49,404.67 L358.69,407.50 L358.90,410.33 L359.11,413.15 L359.31,415.98 L359.52,418.81 L359.73,421.64 L359.93,424.47 L360.14,427.30 L360.34,430.13 L360.55,432.96 L360.76,435.79 L360.96,438.62 L361.17,441.45 L361.38,444.28 L361.58,447.11 L361.79,449.94 L361.99,452.77 L362.20,455.60 L362.41,458.43 L362.61,461.26 L362.82,464.09 L363.02,466.92 L363.23,469.75 L363.44,472.58 L363.64,475.14 L363.85,477.19 L364.06,478.72 L364.26,479.74 L364.47,480.24 L364.68,480.30 L364.88,480.30 L365.09,480.30 L365.29,480.30 L365.50,480.30 L365.50,480.30 Z" fill="#e0e0e0" stroke="#8f8f8f" stroke-width="0.7" stroke-dasharray="2.6 1.3" fill-opacity="1" stroke-linejoin="round"/>
<path d="M364.30,480.30 L364.30,480.30 L364.56,480.30 L364.82,480.30 L365.08,480.30 L365.35,480.26 L365.61,479.92 L365.87,479.24 L366.13,478.23 L366.39,476.89 L366.65,475.37 L366.91,473.86 L367.17,472.35 L367.44,470.84 L367.70,469.33 L367.96,467.82 L368.22,466.30 L368.48,464.79 L368.74,463.28 L369.00,461.77 L369.26,460.26 L369.52,458.75 L369.79,457.23 L370.05,455.72 L370.31,454.21 L370.57,452.70 L370.83,451.19 L371.09,449.67 L371.35,448.16 L371.62,446.65 L371.88,445.14 L372.14,443.63 L372.40,442.12 L372.66,440.60 L372.92,439.09 L373.18,437.58 L373.44,436.07 L373.70,434.56 L373.97,433.05 L374.23,431.60 L374.49,430.72 L374.75,430.50 L375.01,430.95 L375.27,432.08 L375.53,433.57 L375.80,435.07 L376.06,436.56 L376.32,438.06 L376.58,439.55 L376.84,441.05 L377.10,442.54 L377.36,444.04 L377.62,445.53 L377.88,447.03 L378.15,448.52 L378.41,450.02 L378.67,451.51 L378.93,453.00 L379.19,454.50 L379.45,455.99 L379.71,457.49 L379.98,458.98 L380.24,460.48 L380.50,461.97 L380.76,463.47 L381.02,464.96 L381.28,466.46 L381.54,467.95 L381.80,469.45 L382.06,470.94 L382.33,472.44 L382.59,473.93 L382.85,475.43 L383.11,476.92 L383.37,478.26 L383.63,479.25 L383.89,479.92 L384.15,480.26 L384.42,480.30 L384.68,480.30 L384.94,480.30 L385.20,480.30 L385.20,480.30 Z" fill="#bdbdbd" stroke="#444" stroke-width="0.8" stroke-dasharray="2.6 1.3" fill-opacity="0.95" stroke-linejoin="round"/>
<path d="M359.50,480.30 L359.50,480.30 L359.76,480.30 L360.03,480.30 L360.30,480.30 L360.56,480.26 L360.82,479.98 L361.09,479.45 L361.36,478.66 L361.62,477.62 L361.88,476.47 L362.15,475.32 L362.42,474.17 L362.68,473.03 L362.94,471.88 L363.21,470.73 L363.48,469.59 L363.74,468.44 L364.00,467.29 L364.27,466.14 L364.54,465.00 L364.80,463.85 L365.06,462.70 L365.33,461.56 L365.60,460.41 L365.86,459.26 L366.12,458.11 L366.39,456.97 L366.66,455.82 L366.92,454.67 L367.19,453.53 L367.45,452.38 L367.72,451.23 L367.98,450.08 L368.25,449.12 L368.51,448.62 L368.78,448.57 L369.04,448.97 L369.31,449.80 L369.57,450.69 L369.84,451.59 L370.10,452.48 L370.37,453.37 L370.63,454.26 L370.90,455.14 L371.16,456.02 L371.43,456.90 L371.69,457.78 L371.96,458.65 L372.22,459.52 L372.49,460.39 L372.75,461.25 L373.02,462.11 L373.28,462.96 L373.55,463.81 L373.81,464.66 L374.08,465.50 L374.34,466.34 L374.61,467.18 L374.87,468.01 L375.14,468.83 L375.40,469.65 L375.67,470.46 L375.93,471.27 L376.20,472.07 L376.46,472.87 L376.73,473.65 L376.99,474.43 L377.26,475.20 L377.52,475.95 L377.79,476.70 L378.05,477.43 L378.32,478.14 L378.58,478.82 L378.85,479.42 L379.11,479.86 L379.38,480.14 L379.64,480.28 L379.91,480.30 L380.17,480.30 L380.44,480.30 L380.70,480.30 L380.70,480.30 Z" fill="#7d7878" stroke="#2a2a2a" stroke-width="0.8" stroke-dasharray="2.6 1.3" fill-opacity="0.9" stroke-linejoin="round"/>
<rect x="308.5" y="385.7" width="91.00" height="94.60" fill="none" stroke="#8c8c8c" stroke-width="0.6"/>
<line x1="307.1" y1="390.5" x2="308.5" y2="390.5" stroke="#444" stroke-width="0.5"/>
<text transform="translate(299.86 391.50) scale(0.1500 0.1500)" font-size="20" font-weight="bold" fill="#333">3.0K</text>
<line x1="307.1" y1="420.3" x2="308.5" y2="420.3" stroke="#444" stroke-width="0.5"/>
<text transform="translate(299.86 421.30) scale(0.1500 0.1500)" font-size="20" font-weight="bold" fill="#333">2.0K</text>
<line x1="307.1" y1="450.2" x2="308.5" y2="450.2" stroke="#444" stroke-width="0.5"/>
<text transform="translate(299.86 451.20) scale(0.1500 0.1500)" font-size="20" font-weight="bold" fill="#333">1.0K</text>
<line x1="307.1" y1="480.3" x2="308.5" y2="480.3" stroke="#444" stroke-width="0.5"/>
<text transform="translate(304.53 481.30) scale(0.1500 0.1500)" font-size="20" font-weight="bold" fill="#333">0</text>
<line x1="324.7" y1="480.3" x2="324.7" y2="481.8" stroke="#444" stroke-width="0.5"/>
<text transform="translate(323.87 487.60) scale(0.1500 0.1500)" font-size="20" font-weight="bold" fill="#333">0</text>
<line x1="353" y1="480.3" x2="353" y2="481.8" stroke="#444" stroke-width="0.5"/>
<text transform="translate(351.33 487.60) scale(0.1500 0.1500)" font-size="20" font-weight="bold" fill="#333">10</text>
<text transform="translate(354.64 486.20) scale(0.1000 0.1000)" font-size="20" fill="#333">4</text>
<line x1="368.2" y1="480.3" x2="368.2" y2="481.8" stroke="#444" stroke-width="0.5"/>
<text transform="translate(366.53 487.60) scale(0.1500 0.1500)" font-size="20" font-weight="bold" fill="#333">10</text>
<text transform="translate(369.84 486.20) scale(0.1000 0.1000)" font-size="20" fill="#333">5</text>
<line x1="382.4" y1="480.3" x2="382.4" y2="481.8" stroke="#444" stroke-width="0.5"/>
<text transform="translate(380.73 487.60) scale(0.1500 0.1500)" font-size="20" font-weight="bold" fill="#333">10</text>
<text transform="translate(384.04 486.20) scale(0.1000 0.1000)" font-size="20" fill="#333">6</text>
<line x1="396.6" y1="480.3" x2="396.6" y2="481.8" stroke="#444" stroke-width="0.5"/>
<text transform="translate(394.93 487.60) scale(0.1500 0.1500)" font-size="20" font-weight="bold" fill="#333">10</text>
<text transform="translate(398.24 486.20) scale(0.1000 0.1000)" font-size="20" fill="#333">7</text>
<rect x="320.6" y="480.40000000000003" width="4.4" height="1.3" fill="#222"/>
<path d="M308.5,385.7 V480.3 H399.5" fill="none" stroke="#555" stroke-width="0.6"/>
<line x1="309.5" y1="481.2" x2="399.5" y2="481.2" stroke="#555" stroke-width="1.3" stroke-dasharray="0.5 2.5"/>
<line x1="307.7" y1="387" x2="307.7" y2="480.3" stroke="#555" stroke-width="1.0" stroke-dasharray="0.45 5.5"/>
<text x="301.40" y="496.20" font-size="7.8" textLength="81.00" lengthAdjust="spacingAndGlyphs" text-anchor="middle" font-weight="bold" stroke="#222" stroke-width="0.18" fill="#222">Fluorescence intensity</text>
<rect x="195.8" y="507.3" width="12.70" height="13.20" fill="#dedede" stroke="#bdbdbd" stroke-width="0.5"/>
<rect x="195.8" y="523.5" width="12.70" height="13.30" fill="#dedede" stroke="#bdbdbd" stroke-width="0.5" stroke-dasharray="1.4 0.9"/>
<rect x="261" y="507.3" width="12.90" height="13.20" fill="#6e6868" stroke="#333" stroke-width="0.5"/>
<rect x="261" y="523.5" width="12.90" height="13.30" fill="#6e6868" stroke="#333" stroke-width="0.5" stroke-dasharray="1.2 0.8"/>
<rect x="340.5" y="508.4" width="13.30" height="13.00" fill="#d9d9d9" stroke="#777" stroke-width="0.5"/>
<rect x="340.5" y="524.9" width="13.30" height="13.30" fill="#d9d9d9" stroke="#777" stroke-width="0.5" stroke-dasharray="1.2 0.8"/>
<text x="211.30" y="516.90" font-size="6.6" textLength="39.00" lengthAdjust="spacingAndGlyphs" fill="#3a3a3a">Trastuzumab</text>
<text x="211.30" y="531.70" font-size="6.6" textLength="9.40" lengthAdjust="spacingAndGlyphs" fill="#3a3a3a">IgG</text>
<text x="276.20" y="515.50" font-size="6.6" textLength="52.20" lengthAdjust="spacingAndGlyphs" fill="#3a3a3a">Trastuzumab-TAT</text>
<text x="328.80" y="516.80" font-size="3.6" textLength="5.60" lengthAdjust="spacingAndGlyphs" fill="#3a3a3a">1-3</text>
<text x="276.20" y="532.50" font-size="6.6" textLength="22.00" lengthAdjust="spacingAndGlyphs" fill="#3a3a3a">IgG-TAT</text>
<text x="298.60" y="533.80" font-size="3.6" textLength="5.20" lengthAdjust="spacingAndGlyphs" fill="#3a3a3a">1-3</text>
<text x="356.00" y="516.00" font-size="6.6" textLength="52.60" lengthAdjust="spacingAndGlyphs" fill="#3a3a3a">Trastuzumab-NLS</text>
<text x="409.00" y="517.40" font-size="3.6" textLength="6.80" lengthAdjust="spacingAndGlyphs" fill="#3a3a3a">5-10</text>
<text x="356.00" y="532.20" font-size="6.6" textLength="23.40" lengthAdjust="spacingAndGlyphs" fill="#3a3a3a">IgG-NLS</text>
<text x="379.80" y="533.60" font-size="3.6" textLength="7.00" lengthAdjust="spacingAndGlyphs" fill="#3a3a3a">5-10</text>
</svg>
</body></html>
